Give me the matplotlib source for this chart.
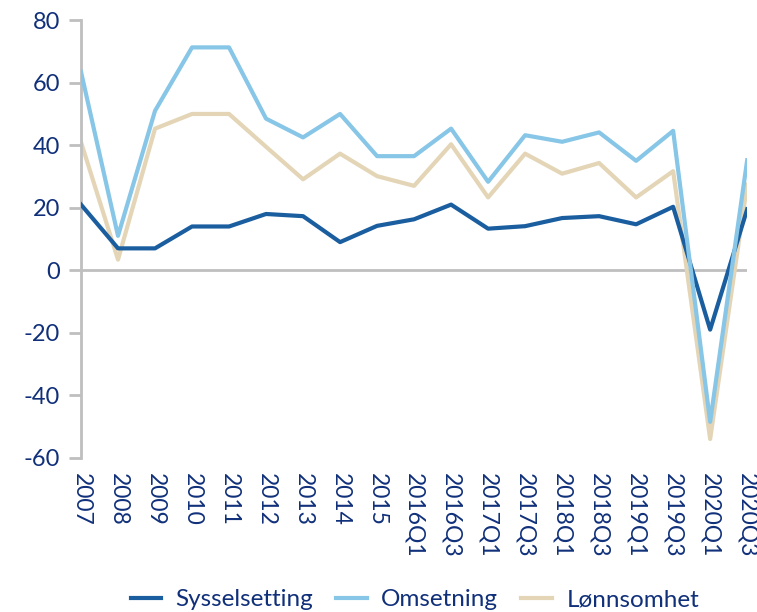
import matplotlib
matplotlib.use("Agg")
from matplotlib import pyplot as plt
import numpy as np

periods = ["2007", "2008", "2009", "2010", "2011", "2012", "2013", "2014", "2015",
           "2016Q1", "2016Q3", "2017Q1", "2017Q3", "2018Q1", "2018Q3",
           "2019Q1", "2019Q3", "2020Q1", "2020Q3"]

sysselsetting = [21, 7, 7, 14, 14, 18, 17.3, 9, 14.2, 16.3, 21, 13.3, 14.1,
                 16.7, 17.3, 14.7, 20.3, -19, 19.5]
omsetning = [63.5, 11, 51, 71.3, 71.3, 48.5, 42.5, 50, 36.5, 36.5, 45.3, 28.3,
             43.2, 41.1, 44.1, 35, 44.6, -48.5, 35.2]
lonnsomhet = [41, 3.4, 45.3, 50, 50, 39.5, 29.1, 37.3, 30.1, 27, 40.3, 23.3,
              37.3, 30.9, 34.3, 23.3, 31.7, -54, 27.4]

navy = "#10307a"
grey = "#bfbfbf"
plt.rcParams['font.family'] = ['Lato', 'DejaVu Sans']
plt.rcParams['axes.unicode_minus'] = False

fig = plt.figure(figsize=(7.57, 6.12), dpi=100)
ax = fig.add_axes([0.107, 0.252, 0.88, 0.715])

x = np.arange(len(periods))
ax.plot(x, sysselsetting, color="#1a5e9f", lw=3, label="Sysselsetting", zorder=3)
ax.plot(x, omsetning, color="#87c6e6", lw=3, label="Omsetning", zorder=3)
ax.plot(x, lonnsomhet, color="#e3d5b6", lw=3, label="Lønnsomhet", zorder=2)

ax.axhline(0, color=grey, lw=2, zorder=1)
ax.set_xlim(0, len(periods) - 1)
ax.set_ylim(-60, 80)
ax.set_yticks(np.arange(-60, 81, 20))

for s in ["top", "right", "bottom"]:
    ax.spines[s].set_visible(False)
ax.spines["left"].set_color(grey)
ax.spines["left"].set_linewidth(2)

ax.tick_params(axis="y", colors=grey, labelcolor=navy, labelsize=17,
               length=9, width=2, pad=6)
ax.set_xticks(x)
ax.set_xticklabels(periods, rotation=270, fontsize=16.5, color=navy)
ax.tick_params(axis="x", length=0, pad=11)

fig.legend(loc="lower center", bbox_to_anchor=(0.548, -0.033), ncol=3, frameon=False,
           fontsize=17.5, labelcolor=navy, handlelength=1.25, columnspacing=0.95,
           handletextpad=0.6)

fig.savefig("out.png", dpi=100)
